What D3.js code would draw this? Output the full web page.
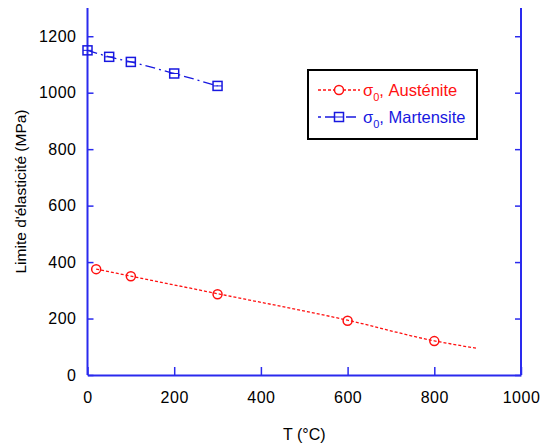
<!DOCTYPE html>
<html><head><meta charset="utf-8">
<script src="https://cdn.jsdelivr.net/npm/d3@7"></script>
<style>
body{margin:0;background:#fff;}
text{font-family:"Liberation Sans",Arial,Helvetica,sans-serif;}
</style></head>
<body><svg id="c" width="547" height="443"></svg>
<script>
const austT = [20, 100, 300, 600, 800];
const austS = [375, 350, 286, 192, 120];
const austFitT = [20, 100, 300, 600, 800, 900];
const austFitS = [375, 350, 288, 194, 121, 94];
const martT = [0, 50, 100, 200, 300];
const martS = [1150, 1127, 1109, 1068, 1024];
const xTicks = [0, 200, 400, 600, 800, 1000];
const yTicks = [0, 200, 400, 600, 800, 1000, 1200];
const xTitle = "T (°C)";
const yTitle = "Limite d'élasticité (MPa)";
const legendNames = ["Austénite", "Martensite"];

const svg = d3.select("#c");
const L = 87.5, R = 521, T = 8, B = 375;
const x = d3.scaleLinear().domain([0, 1000]).range([L, R]);
const y = d3.scaleLinear().domain([0, 1300]).range([B, T]);
const axisCol = "#2a2aee";
const fmt = d3.format("d");

// axes
const gx = svg.append("g").attr("transform", `translate(0,${B})`)
  .call(d3.axisBottom(x).tickValues(xTicks).tickFormat(fmt).tickSize(-8).tickPadding(17).tickSizeOuter(0));
const gy = svg.append("g").attr("transform", `translate(${L},0)`)
  .call(d3.axisLeft(y).tickValues(yTicks).tickFormat(fmt).tickSize(-6).tickPadding(11).tickSizeOuter(0));
const gy2 = svg.append("g").attr("transform", `translate(${R},0)`)
  .call(d3.axisRight(y).tickValues(yTicks).tickSize(-6).tickFormat("").tickSizeOuter(0));
[gx, gy, gy2].forEach(g => {
  g.selectAll(".domain").attr("stroke", axisCol).attr("stroke-width", 2);
  g.selectAll(".tick line").attr("stroke", axisCol).attr("stroke-width", 1.5);
  g.selectAll(".tick text").attr("fill", "#000").style("font-size", "16px").style("letter-spacing", "0.5px");
});
gy.select(".domain").attr("d", `M0,${B}V${T}`);
gy2.select(".domain").attr("d", `M0,${B}V${T}`);

// titles
svg.append("text").attr("x", (L + R) / 2).attr("y", 440).attr("text-anchor", "middle")
  .style("font-size", "16px").text(xTitle);
svg.append("text").attr("transform", `translate(26,${(T + B) / 2}) rotate(-90)`)
  .attr("text-anchor", "middle").style("font-size", "15.5px").text(yTitle);

const line = d3.line().x(d => x(d[0])).y(d => y(d[1])).curve(d3.curveMonotoneX);
const red = "#ff1010", blue = "#1818e0";

// austenite
svg.append("path").datum(austFitT.map((t, i) => [t, austFitS[i]]))
  .attr("d", line).attr("fill", "none").attr("stroke", red).attr("stroke-width", 1.3)
  .attr("stroke-dasharray", "3,2");
svg.selectAll(".ca").data(austT.map((t, i) => [t, austS[i]])).enter().append("circle")
  .attr("cx", d => x(d[0])).attr("cy", d => y(d[1])).attr("r", 4.5)
  .attr("fill", "none").attr("stroke", red).attr("stroke-width", 1.5);

// martensite
svg.append("path").datum(martT.map((t, i) => [t, martS[i]]))
  .attr("d", line).attr("fill", "none").attr("stroke", blue).attr("stroke-width", 1.3)
  .attr("stroke-dasharray", "10,4,2,4");
svg.selectAll(".sm").data(martT.map((t, i) => [t, martS[i]])).enter().append("rect")
  .attr("x", d => x(d[0]) - 4.5).attr("y", d => y(d[1]) - 4.5).attr("width", 9).attr("height", 9)
  .attr("fill", "none").attr("stroke", blue).attr("stroke-width", 1.5);
svg.selectAll(".sm2").data(martT.map((t, i) => [t, martS[i]])).enter().append("line")
  .attr("x1", d => x(d[0]) - 4.5).attr("x2", d => x(d[0]) + 4.5)
  .attr("y1", d => y(d[1])).attr("y2", d => y(d[1]))
  .attr("stroke", blue).attr("stroke-width", 1);

// legend
const lg = svg.append("g");
lg.append("rect").attr("x", 308).attr("y", 70).attr("width", 169).attr("height", 69)
  .attr("fill", "#fff").attr("stroke", "#000").attr("stroke-width", 2);
const rows = [{c: red, dash: "3,2", y: 90, name: legendNames[0], m: "circle"},
              {c: blue, dash: "3,4,10,4", y: 117, name: legendNames[1], m: "rect"}];
rows.forEach(r => {
  lg.append("line").attr("x1", 318).attr("x2", 360).attr("y1", r.y).attr("y2", r.y)
    .attr("stroke", r.c).attr("stroke-width", 1.3).attr("stroke-dasharray", r.dash);
  if (r.m === "circle") {
    lg.append("circle").attr("cx", 339).attr("cy", r.y).attr("r", 4.5).attr("fill", "#fff")
      .attr("stroke", r.c).attr("stroke-width", 1.5);
  } else {
    lg.append("rect").attr("x", 334.5).attr("y", r.y - 4.5).attr("width", 9).attr("height", 9)
      .attr("fill", "#fff").attr("stroke", r.c).attr("stroke-width", 1.5);
    lg.append("line").attr("x1", 334.5).attr("x2", 343.5).attr("y1", r.y).attr("y2", r.y)
      .attr("stroke", r.c).attr("stroke-width", 1);
  }
  const t = lg.append("text").attr("x", 363).attr("y", r.y + 6).attr("fill", r.c).style("font-size", "16.5px");
  t.append("tspan").text("σ");
  t.append("tspan").attr("dy", 5).style("font-size", "11px").text("0");
  t.append("tspan").attr("dy", -5).text(", " + r.name);
});
</script></body></html>
